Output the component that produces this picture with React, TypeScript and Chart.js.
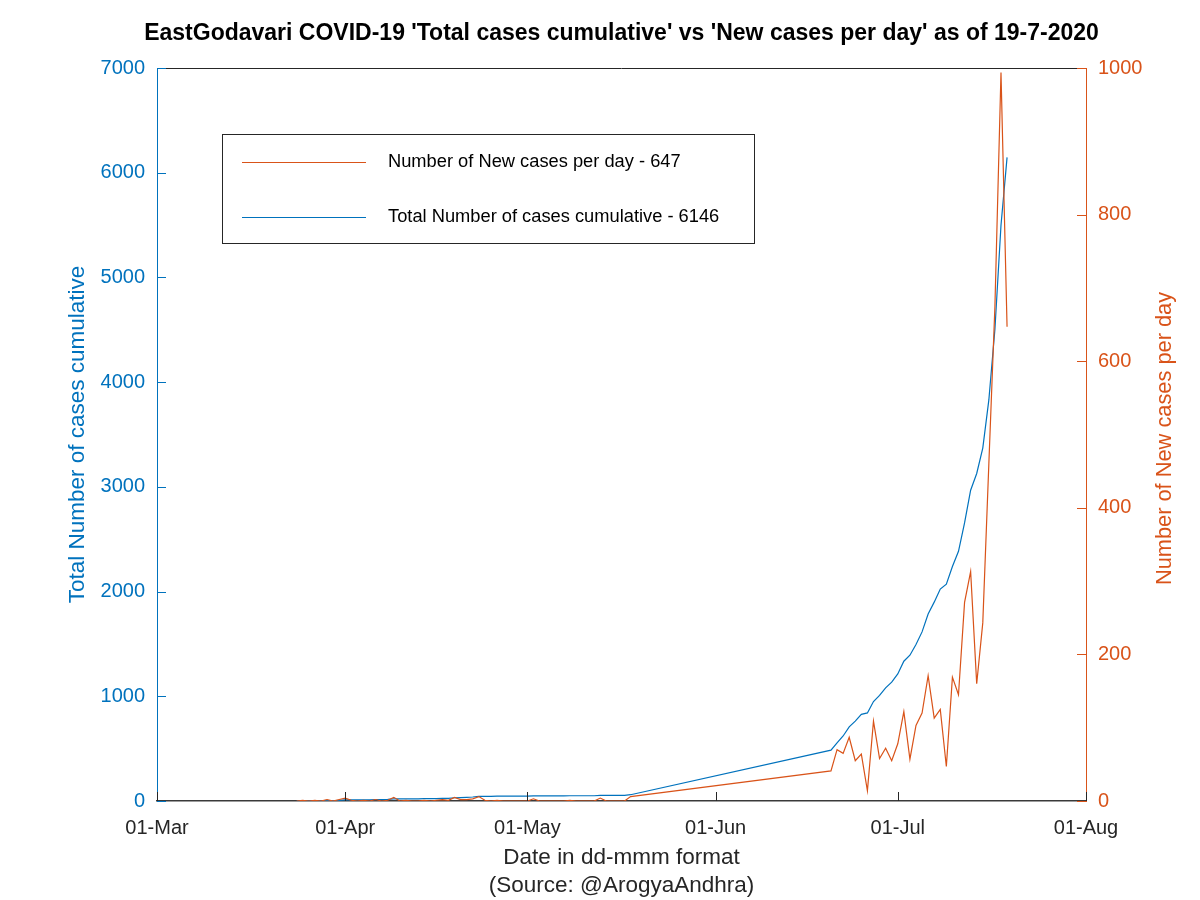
import React, { useEffect, useRef } from 'react';
import { Chart, registerables } from 'chart.js';

Chart.register(...registerables);

const FONT = '"Liberation Sans", Arial, Helvetica, sans-serif';
const BLUE = '#0072BD';
const ORANGE = '#D95319';
const DARK = '#262626';

const titleText = "EastGodavari COVID-19 'Total cases cumulative' vs 'New cases per day' as of 19-7-2020";
const xAxisTitle = ['Date in dd-mmm format', '(Source: @ArogyaAndhra)'];
const leftAxisTitle = 'Total Number of cases cumulative';
const rightAxisTitle = 'Number of New cases per day';
const newLabel = 'Number of New cases per day - 647';
const cumLabel = 'Total Number of cases cumulative - 6146';

const axisOrigin = '2020-03-01';
const axisEnd = '2020-08-01';
const xTickDates = ['2020-03-01', '2020-04-01', '2020-05-01', '2020-06-01', '2020-07-01', '2020-08-01'];
const xTickLabels = ['01-Mar', '01-Apr', '01-May', '01-Jun', '01-Jul', '01-Aug'];
const leftTicks = [0, 1000, 2000, 3000, 4000, 5000, 6000, 7000];
const rightTicks = [0, 200, 400, 600, 800, 1000];

// Daily data, first block: 24-Mar .. 18-May
const seg1Start = '2020-03-24';
const seg1New = [
  0, 1, 0, 1, 0, 2, 0, 2,
  4, 1, 0, 1, 0, 2, 0, 1, 5, 0,
  1, 0, 0, 1, 0, 1, 2, 1, 5, 2,
  2, 3, 6, 1, 0, 1, 0, 0, 0, 0,
  0, 3, 0, 0, 0, 0, 0, 1, 0, 0,
  0, 0, 4, 0, 0, 0, 0, 6,
];
const seg1Cum = [
  0, 1, 1, 2, 2, 4, 4, 6,
  10, 11, 11, 12, 12, 14, 14, 15, 20, 20,
  21, 21, 21, 22, 22, 23, 25, 26, 31, 33,
  35, 38, 44, 45, 45, 46, 46, 46, 46, 46,
  46, 49, 49, 49, 49, 49, 49, 50, 50, 50,
  50, 50, 54, 54, 54, 54, 54, 60,
];

// Daily data, second block: 20-Jun .. 19-Jul
const seg2Start = '2020-06-20';
const seg2New = [
  41, 70, 65, 87, 55, 64, 14, 109, 58, 72, 55,
  78, 122, 57, 103, 120, 171, 113, 125, 47, 169,
  145, 271, 313, 160, 243, 460, 675, 994, 647,
];
const seg2Cum = [
  486, 556, 621, 708, 763, 827, 841, 950, 1008, 1080, 1135,
  1213, 1335, 1392, 1495, 1615, 1786, 1899, 2024, 2071, 2240,
  2385, 2655, 2968, 3128, 3370, 3830, 4505, 5499, 6146,
];

function dayOf(iso: string): number {
  return Math.round((Date.parse(iso) - Date.parse(axisOrigin)) / 86400000);
}

function toPoints(start: string, vals: number[]) {
  const d0 = dayOf(start);
  return vals.map((v, i) => ({ x: d0 + i, y: v }));
}

const overlayPlugin = {
  id: 'overlay',
  afterDraw(chart: any) {
    const { ctx, chartArea: a, scales } = chart;
    const xs = scales.x;
    const yl = scales.yLeft;
    const yr = scales.yRight;
    ctx.save();

    // top box line
    ctx.lineWidth = 1;
    ctx.strokeStyle = DARK;
    ctx.beginPath();
    ctx.moveTo(a.left, Math.round(a.top) + 0.5);
    ctx.lineTo(a.right, Math.round(a.top) + 0.5);
    ctx.stroke();

    // inward tick marks
    const TL = 9;
    ctx.strokeStyle = DARK;
    xs.ticks.forEach((t: any) => {
      const px = Math.round(xs.getPixelForValue(t.value)) + 0.5;
      ctx.beginPath();
      ctx.moveTo(px, a.bottom);
      ctx.lineTo(px, a.bottom - TL);
      ctx.stroke();
    });
    ctx.strokeStyle = BLUE;
    yl.ticks.forEach((t: any) => {
      const py = Math.round(yl.getPixelForValue(t.value)) + 0.5;
      ctx.beginPath();
      ctx.moveTo(a.left, py);
      ctx.lineTo(a.left + TL, py);
      ctx.stroke();
    });
    ctx.strokeStyle = ORANGE;
    yr.ticks.forEach((t: any) => {
      const py = Math.round(yr.getPixelForValue(t.value)) + 0.5;
      ctx.beginPath();
      ctx.moveTo(a.right, py);
      ctx.lineTo(a.right - TL, py);
      ctx.stroke();
    });

    const cx = (a.left + a.right) / 2;
    const cy = (a.top + a.bottom) / 2;

    // title
    ctx.fillStyle = '#000000';
    ctx.font = `bold 23px ${FONT}`;
    ctx.textAlign = 'center';
    ctx.textBaseline = 'middle';
    ctx.fillText(titleText, cx, 34);

    // x axis title
    ctx.fillStyle = DARK;
    ctx.font = `22.5px ${FONT}`;
    ctx.fillText(xAxisTitle[0], cx, 858);
    ctx.fillText(xAxisTitle[1], cx, 886);

    // left axis title
    ctx.save();
    ctx.translate(78, cy);
    ctx.rotate(-Math.PI / 2);
    ctx.fillStyle = BLUE;
    ctx.fillText(leftAxisTitle, 0, 0);
    ctx.restore();

    // right axis title
    ctx.save();
    ctx.translate(1165, cy + 4);
    ctx.rotate(-Math.PI / 2);
    ctx.fillStyle = ORANGE;
    ctx.font = `21.8px ${FONT}`;
    ctx.fillText(rightAxisTitle, 0, 0);
    ctx.restore();

    // legend
    const lx = 222.5, ly = 134.5, lw = 532, lh = 109;
    ctx.fillStyle = '#ffffff';
    ctx.fillRect(lx, ly, lw, lh);
    ctx.strokeStyle = DARK;
    ctx.lineWidth = 1;
    ctx.strokeRect(lx, ly, lw, lh);
    const ds = chart.data.datasets;
    const rows = [
      { y: 162, color: ds[0].borderColor, text: ds[0].label },
      { y: 217, color: ds[1].borderColor, text: ds[1].label },
    ];
    ctx.font = `18.3px ${FONT}`;
    ctx.textAlign = 'left';
    ctx.textBaseline = 'middle';
    rows.forEach((r) => {
      ctx.strokeStyle = r.color;
      ctx.lineWidth = 1;
      ctx.beginPath();
      ctx.moveTo(242, r.y + 0.5);
      ctx.lineTo(366, r.y + 0.5);
      ctx.stroke();
      ctx.fillStyle = '#000000';
      ctx.fillText(r.text, 388, r.y);
    });

    ctx.restore();
  },
};

export default function App() {
  const ref = useRef<HTMLCanvasElement | null>(null);

  useEffect(() => {
    if (!ref.current) return;
    const newPts = [...toPoints(seg1Start, seg1New), ...toPoints(seg2Start, seg2New)];
    const cumPts = [...toPoints(seg1Start, seg1Cum), ...toPoints(seg2Start, seg2Cum)];
    const xTickDays = xTickDates.map(dayOf);

    const chart = new Chart(ref.current, {
      type: 'line',
      data: {
        datasets: [
          {
            label: newLabel,
            data: newPts,
            yAxisID: 'yRight',
            borderColor: ORANGE,
            backgroundColor: ORANGE,
            borderWidth: 1.2,
            pointRadius: 0,
            tension: 0,
            fill: false,
          },
          {
            label: cumLabel,
            data: cumPts,
            yAxisID: 'yLeft',
            borderColor: BLUE,
            backgroundColor: BLUE,
            borderWidth: 1.2,
            pointRadius: 0,
            tension: 0,
            fill: false,
          },
        ],
      },
      options: {
        responsive: false,
        animation: false,
        events: [],
        layout: { padding: { top: 68, left: 0, right: 0, bottom: 0 } },
        plugins: {
          legend: { display: false },
          title: { display: false },
          tooltip: { enabled: false },
        },
        scales: {
          x: {
            type: 'linear',
            min: dayOf(axisOrigin),
            max: dayOf(axisEnd),
            afterBuildTicks: (s: any) => {
              s.ticks = xTickDays.map((v) => ({ value: v }));
            },
            afterFit: (s: any) => {
              s.height = 99;
            },
            grid: { display: false, drawTicks: false },
            border: { display: true, color: '#3a3a3a', width: 1.5 },
            ticks: {
              autoSkip: false,
              maxRotation: 0,
              padding: 15,
              color: DARK,
              font: { family: FONT, size: 20 },
              callback: (v: any) => {
                const i = xTickDays.indexOf(Number(v));
                return i >= 0 ? xTickLabels[i] : '';
              },
            },
          },
          yLeft: {
            type: 'linear',
            position: 'left',
            min: 0,
            max: 7000,
            afterBuildTicks: (s: any) => {
              s.ticks = leftTicks.map((v) => ({ value: v }));
            },
            afterFit: (s: any) => {
              s.width = 157;
            },
            grid: { display: false, drawTicks: false },
            border: { display: true, color: BLUE, width: 1 },
            ticks: {
              padding: 12,
              color: BLUE,
              font: { family: FONT, size: 20 },
              callback: (v: any) => String(v),
            },
          },
          yRight: {
            type: 'linear',
            position: 'right',
            min: 0,
            max: 1000,
            afterBuildTicks: (s: any) => {
              s.ticks = rightTicks.map((v) => ({ value: v }));
            },
            afterFit: (s: any) => {
              s.width = 114;
            },
            grid: { display: false, drawTicks: false },
            border: { display: true, color: ORANGE, width: 1 },
            ticks: {
              padding: 12,
              color: ORANGE,
              font: { family: FONT, size: 20 },
              callback: (v: any) => String(v),
            },
          },
        },
      },
      plugins: [overlayPlugin],
    } as any);

    return () => chart.destroy();
  }, []);

  return (
    <div style={{ position: 'absolute', left: 0, top: 0, width: 1200, height: 900, background: '#ffffff' }}>
      <canvas ref={ref} width={1200} height={900} style={{ width: 1200, height: 900, display: 'block' }} />
    </div>
  );
}
